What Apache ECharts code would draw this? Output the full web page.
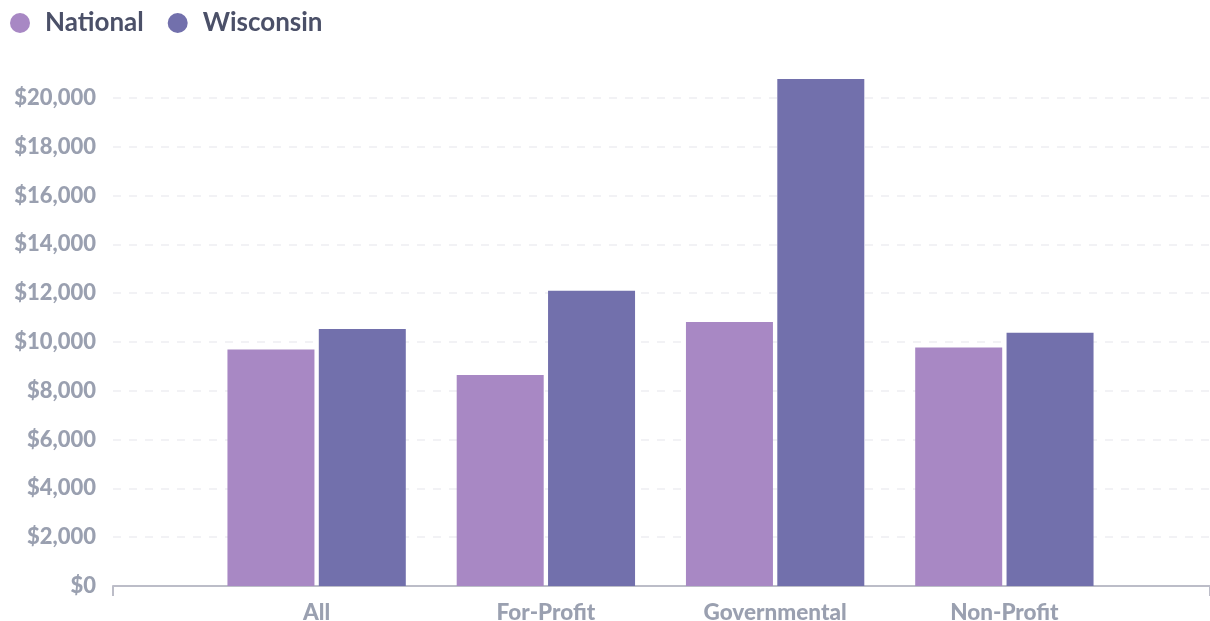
<!DOCTYPE html>
<html>
<head>
<meta charset="utf-8">
<script src="https://cdn.jsdelivr.net/npm/echarts@6/dist/echarts.min.js"></script>
<style>
html,body{margin:0;padding:0;background:#fff;}
#chart{width:1210px;height:621px;}
</style>
</head>
<body>
<div id="chart"></div>
<script>
const categories = ['All', 'For-Profit', 'Governmental', 'Non-Profit'];
const seriesNames = ['National', 'Wisconsin'];
const nationalValues = [9690, 8650, 10820, 9770];
const wisconsinValues = [10530, 12100, 20780, 10380];
const yTicks = [0, 2000, 4000, 6000, 8000, 10000, 12000, 14000, 16000, 18000, 20000];

const colors = ['#a888c4', '#7270ac'];
const labelColor = '#9aa0b0';
const FONT = 'Lato';

const chart = echarts.init(document.getElementById('chart'), null, {renderer: 'canvas'});
const yMin = yTicks[0], yMax = yTicks[yTicks.length - 1], yStep = yTicks[1] - yTicks[0];

chart.setOption({
  animation: false,
  color: colors,
  legend: {
    left: 5, top: 5,
    itemWidth: 20, itemHeight: 20, itemGap: 24,
    icon: 'circle',
    data: seriesNames,
    textStyle: {fontFamily: FONT, fontSize: 26, fontWeight: 'bold', color: '#4b5068', padding: [0, 0, 0, 10]}
  },
  grid: [
    {left: 113, right: 0, top: 98, bottom: 35, containLabel: false, outerBoundsMode: 'none'},
    {left: 202, right: 91, top: 98, bottom: 35, containLabel: false, outerBoundsMode: 'none'}
  ],
  xAxis: [
    {
      gridIndex: 0, type: 'value', min: 0, max: 1, interval: 1,
      axisLine: {show: true, lineStyle: {color: '#bcbdc8', width: 2}},
      axisTick: {show: true, length: 10, lineStyle: {color: '#bcbdc8', width: 2}},
      axisLabel: {show: false}, splitLine: {show: false}
    },
    {
      gridIndex: 1, type: 'category', data: categories,
      axisLine: {show: false}, axisTick: {show: false},
      axisLabel: {margin: 15, fontFamily: FONT, fontSize: 22.5, fontWeight: 900, color: labelColor}
    }
  ],
  yAxis: [
    {
      gridIndex: 0, type: 'value', min: yMin, max: yMax, interval: yStep,
      axisLine: {show: false}, axisTick: {show: false},
      axisLabel: {
        margin: 17, fontFamily: FONT, fontSize: 22, fontWeight: 900, color: labelColor,
        formatter: v => '$' + v.toLocaleString('en-US')
      },
      splitLine: {show: true, lineStyle: {color: '#eeeef2', width: 1.5, type: [8, 8]}}
    },
    {
      gridIndex: 1, type: 'value', min: yMin, max: yMax, interval: yStep,
      show: false, splitLine: {show: false}
    }
  ],
  series: [
    {
      name: seriesNames[0], type: 'bar', xAxisIndex: 1, yAxisIndex: 1,
      data: nationalValues, barWidth: 87, barGap: '5%', clip: false,
      itemStyle: {color: colors[0]}
    },
    {
      name: seriesNames[1], type: 'bar', xAxisIndex: 1, yAxisIndex: 1,
      data: wisconsinValues, barWidth: 87, barGap: '5%', clip: false,
      itemStyle: {color: colors[1]}
    }
  ]
});
</script>
</body>
</html>
